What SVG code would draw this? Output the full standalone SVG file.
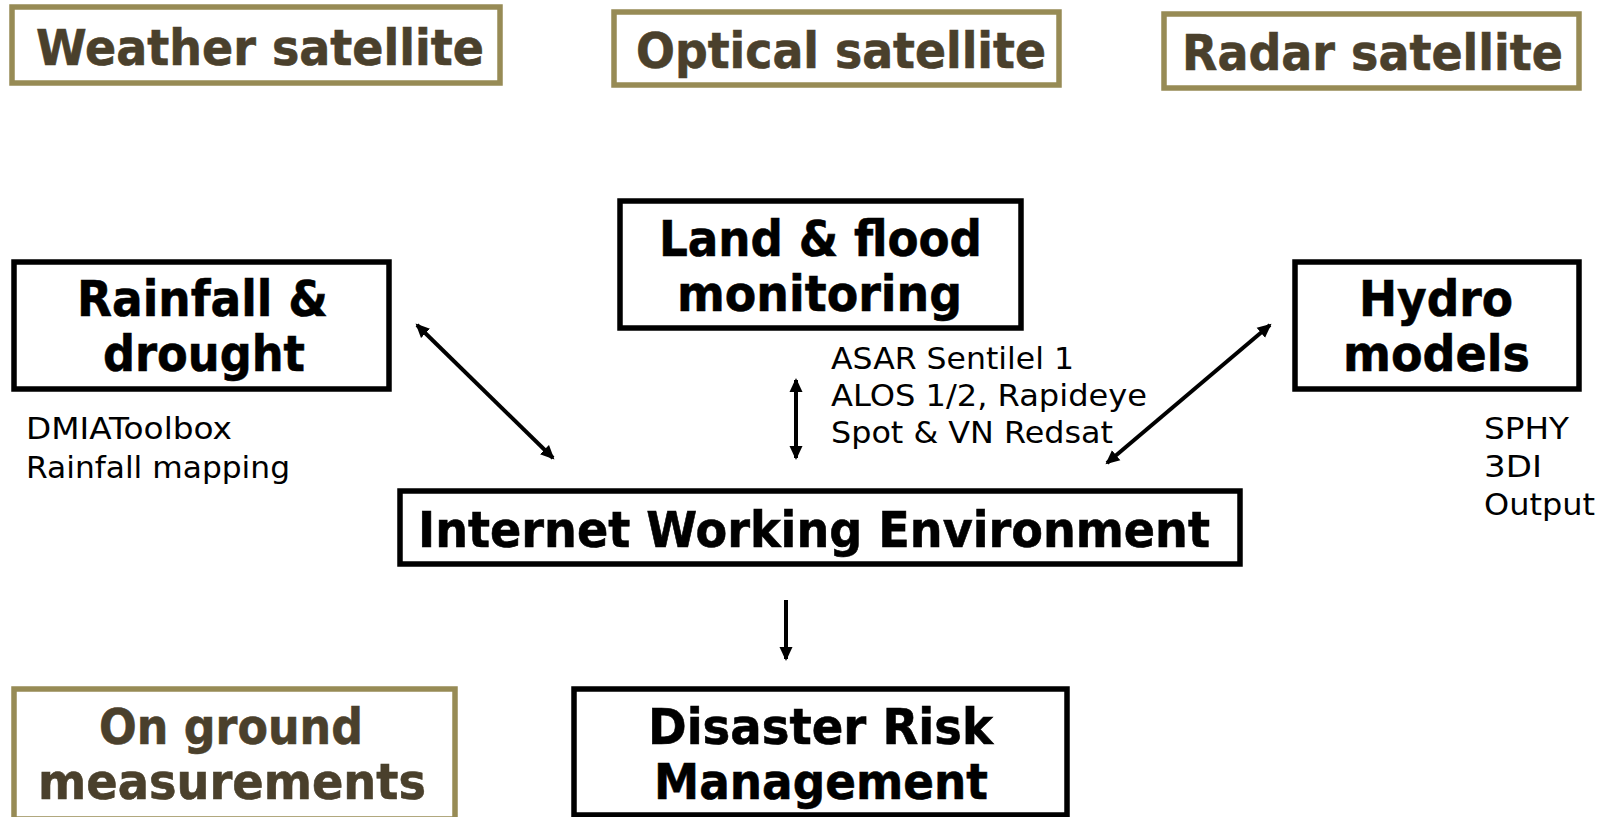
<svg xmlns="http://www.w3.org/2000/svg" width="1608" height="817" viewBox="0 0 1608 817">
<style>
.gbox{fill:#fff;stroke:#978b55;stroke-width:5.5}
.bbox{fill:#fff;stroke:#000;stroke-width:5.5}
.gt{font-family:"DejaVu Sans","Liberation Sans",sans-serif;font-weight:bold;font-size:50px;fill:#4a402c;stroke:#4a402c;stroke-width:0.6}
.bt{font-family:"DejaVu Sans","Liberation Sans",sans-serif;font-weight:bold;font-size:50px;fill:#000;stroke:#000;stroke-width:0.6}
.lb{font-family:"DejaVu Sans","Liberation Sans",sans-serif;font-size:30px;fill:#000}
.ar{stroke:#000;stroke-width:4;fill:none}
</style>
<defs>
<marker id="ah" markerUnits="userSpaceOnUse" markerWidth="16" markerHeight="14" refX="12" refY="7" orient="auto-start-reverse">
<path d="M0,0.5 L14,7 L0,13.5 Z" fill="#000"/>
</marker>
</defs>
<g id="weather"><rect class="gbox" x="12" y="7" width="488" height="76"/><text class="gt" x="36" y="65" textLength="448" lengthAdjust="spacingAndGlyphs">Weather satellite</text></g>
<g id="optical"><rect class="gbox" x="614" y="12" width="445" height="73"/><text class="gt" x="636" y="68" textLength="410" lengthAdjust="spacingAndGlyphs">Optical satellite</text></g>
<g id="radar"><rect class="gbox" x="1164" y="14" width="415" height="74"/><text class="gt" x="1182" y="70" textLength="381" lengthAdjust="spacingAndGlyphs">Radar satellite</text></g>
<g id="rainfall"><rect class="bbox" x="14" y="262" width="375" height="127"/><text class="bt" x="77" y="316" textLength="251" lengthAdjust="spacingAndGlyphs">Rainfall &amp;</text><text class="bt" x="103" y="371" textLength="202" lengthAdjust="spacingAndGlyphs">drought</text></g>
<g id="land"><rect class="bbox" x="620" y="201" width="401" height="127"/><text class="bt" x="659" y="256" textLength="323" lengthAdjust="spacingAndGlyphs">Land &amp; flood</text><text class="bt" x="677" y="311" textLength="285" lengthAdjust="spacingAndGlyphs">monitoring</text></g>
<g id="hydro"><rect class="bbox" x="1295" y="262" width="284" height="127"/><text class="bt" x="1359" y="316" textLength="154" lengthAdjust="spacingAndGlyphs">Hydro</text><text class="bt" x="1343" y="371" textLength="187" lengthAdjust="spacingAndGlyphs">models</text></g>
<g id="internet"><rect class="bbox" x="400" y="491" width="840" height="73"/><text class="bt" x="418" y="547" textLength="792" lengthAdjust="spacingAndGlyphs">Internet Working Environment</text></g>
<g id="ground"><rect class="gbox" x="14" y="689" width="441" height="130"/><text class="gt" x="99" y="744" textLength="264" lengthAdjust="spacingAndGlyphs">On ground</text><text class="gt" x="38" y="799" textLength="388" lengthAdjust="spacingAndGlyphs">measurements</text></g>
<g id="disaster"><rect class="bbox" x="574" y="689" width="493" height="126"/><text class="bt" x="648" y="744" textLength="345" lengthAdjust="spacingAndGlyphs">Disaster Risk</text><text class="bt" x="654" y="799" textLength="334" lengthAdjust="spacingAndGlyphs">Management</text></g>
<g id="labels">
<text class="lb" x="26" y="439" textLength="206" lengthAdjust="spacingAndGlyphs">DMIAToolbox</text>
<text class="lb" x="26" y="478" textLength="264" lengthAdjust="spacingAndGlyphs">Rainfall mapping</text>
<text class="lb" x="831" y="369" textLength="243" lengthAdjust="spacingAndGlyphs">ASAR Sentilel 1</text>
<text class="lb" x="831" y="406" textLength="316" lengthAdjust="spacingAndGlyphs">ALOS 1/2, Rapideye</text>
<text class="lb" x="831" y="443" textLength="282" lengthAdjust="spacingAndGlyphs">Spot &amp; VN Redsat</text>
<text class="lb" x="1484" y="439" textLength="85" lengthAdjust="spacingAndGlyphs">SPHY</text>
<text class="lb" x="1484" y="477" textLength="58" lengthAdjust="spacingAndGlyphs">3DI</text>
<text class="lb" x="1484" y="515" textLength="111" lengthAdjust="spacingAndGlyphs">Output</text>
</g>
<g id="connectors">
<line class="ar" x1="417" y1="325" x2="553" y2="458" marker-start="url(#ah)" marker-end="url(#ah)"/>
<line class="ar" x1="796" y1="380" x2="796" y2="458" marker-start="url(#ah)" marker-end="url(#ah)"/>
<line class="ar" x1="1270" y1="325" x2="1107" y2="463" marker-start="url(#ah)" marker-end="url(#ah)"/>
<line class="ar" x1="786" y1="600" x2="786" y2="659" marker-end="url(#ah)"/>
</g>
</svg>
